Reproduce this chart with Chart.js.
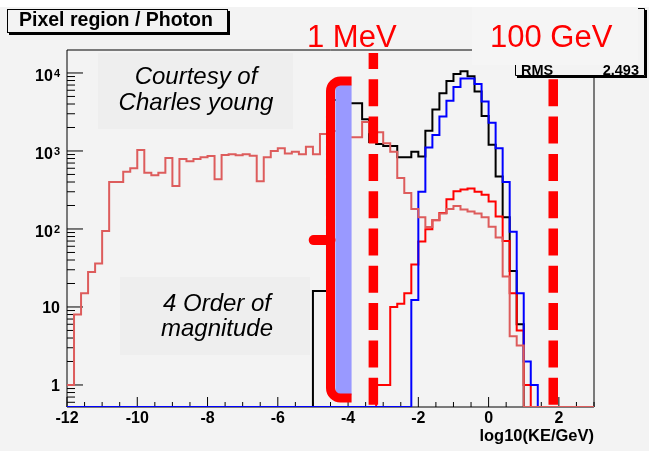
<!DOCTYPE html>
<html><head><meta charset="utf-8">
<script src="https://cdn.jsdelivr.net/npm/chart.js@4.4.1/dist/chart.umd.min.js"></script>
<style>html,body{margin:0;padding:0;background:#fff;overflow:hidden}#wrap{width:649px;height:451px;position:relative}</style>
</head><body><div id="wrap"><canvas id="c" width="649" height="451"></canvas></div>
<script>
// histogram binning (log10(KE/GeV)), 75 bins of 0.2 from -12 to 3
const BIN_LO = -12, BIN_W = 0.2;
const X_MIN = -12, X_MAX = 3;
const Y_MIN = 0.522, Y_MAX = 19700;

const salmonCounts = [
  1,8,15,28,36,94,400,400,540,600,
  1030,525,490,525,810,355,790,740,790,830,
  860,435,890,910,880,910,870,410,830,1000,
  1080,930,980,910,1130,910,1650,1700,1800,1700,
  1500,1500,2360,1740,1740,1260,980,450,290,180,
  141,106,130,158,180,197,178,167,158,141,
  107,78,24.5,4.2,3.2,0,0,0,0,0,
  0,0,0,0,0];
const blackCounts = [
  0,0,0,0,0,0,0,0,0,0,
  0,0,0,0,0,0,0,0,0,0,
  0,0,0,0,0,0,0,0,0,0,
  0,0,0,0,0,16,16,3000,4500,4500,
  4100,4100,2560,1300,1230,1160,1160,830,830,980,
  850,1820,3400,5500,7900,9700,10500,9100,5770,2800,
  1200,470,141,29,6,0,0,0,0,0,
  0,0,0,0,0];
const redCounts = [
  0,0,0,0,0,0,0,0,0,0,
  0,0,0,0,0,0,0,0,0,0,
  0,0,0,0,0,0,0,0,0,0,
  0,0,0,0,0,0,0,0,0,0,
  0,0,0,0,1,1,10,11,15,35,
  69,99,129,160,240,305,320,330,300,275,
  225,145,70,15,5,1,0,0,0,0,
  0,0,0,0,0];
const blueCounts = [
  0,0,0,0,0,0,0,0,0,0,
  0,0,0,0,0,0,0,0,0,0,
  0,0,0,0,0,0,0,0,0,0,
  0,0,0,0,0,0,0,0,0,0,
  0,0,0,0,0,0,0,0,0,12.3,
  300,1110,1600,2760,4400,6600,8500,8500,7200,4300,
  2300,1080,400,92,15,2,1,0,0,0,
  0,0,0,0,0];

const xTickValues = [-12,-10,-8,-6,-4,-2,0,2];
const xTickLabels = ['-12','-10','-8','-6','-4','-2','0','2'];
const yTickValues = [1,10,100,1000,10000];
const yTickBase = ['1','10','10','10','10'];
const yTickExp = ['','','2','3','4'];

// annotations (data units)
const markerLineX = [-3.28, 1.84];           // "1 MeV", "100 GeV"
const bandX = [-4.36, -3.9], bandY = [0.74, 7000];
const braceX = -4.5, braceArmX = -3.9, braceNubX = -5.12;
const braceTop = 7900, braceBottom = 0.68, braceMid = 72;

const FONT = '"Liberation Sans", Arial, Helvetica, sans-serif';

function hist(vals){
  const pts = vals.map((v,k)=>({x: BIN_LO + k*BIN_W, y: v > 0 ? v : Y_MIN}));
  pts.push({x: BIN_LO + vals.length*BIN_W, y: Y_MIN});
  return pts;
}
function ds(vals, color){
  return {data: hist(vals), borderColor: color, borderWidth: 2, stepped: 'before',
          pointRadius: 0, fill: false, tension: 0};
}

const deco = {
  id: 'deco',
  beforeDraw(chart){
    const c = chart.ctx;
    c.save();
    c.fillStyle = '#fff'; c.fillRect(0,0,chart.width,chart.height);
    c.fillStyle = 'rgb(243,243,243)'; c.fillRect(0,7,chart.width,chart.height-7);
    c.restore();
  },
  beforeDatasetsDraw(chart){
    const c = chart.ctx, xs = chart.scales.x, ys = chart.scales.y;
    const L = xs.left, R = xs.right, T = ys.top, B = ys.bottom;
    c.save();
    // text boxes
    c.fillStyle = 'rgb(238,238,238)';
    c.fillRect(98,53,195,76);
    c.fillRect(120,277,190,78);
    c.fillStyle = '#000';
    c.font = 'italic 24px ' + FONT;
    c.textAlign = 'center';
    c.fillText('Courtesy of', 196, 84);
    c.fillText('Charles young', 196, 110);
    c.fillText('4 Order of', 217, 311);
    c.fillText('magnitude', 217, 336);
    // frame
    c.strokeStyle = '#000'; c.lineWidth = 1;
    c.beginPath();
    c.moveTo(L, T); c.lineTo(R, T); c.lineTo(R, B); c.lineTo(L, B); c.closePath();
    c.stroke();
    // y ticks
    c.beginPath();
    for (let d = -1; d <= 4; d++){
      for (let m = 1; m <= 9; m++){
        const v = m*Math.pow(10,d);
        if (v < Y_MIN || v > Y_MAX) continue;
        const py = ys.getPixelForValue(v);
        const len = m === 1 ? 16 : 8;
        c.moveTo(L, py); c.lineTo(L+len, py);
      }
    }
    // x ticks
    for (let v = X_MIN; v <= X_MAX + 1e-9; v += 0.5){
      const px = xs.getPixelForValue(v);
      const len = (Math.abs(v % 2) < 1e-9) ? 10 : 5;
      c.moveTo(px, B); c.lineTo(px, B-len);
    }
    c.stroke();
    // y labels
    c.fillStyle = '#000';
    c.textAlign = 'left';
    const rightEdge = 60;
    yTickValues.forEach((v,i)=>{
      const py = ys.getPixelForValue(v);
      if (yTickExp[i]){
        c.font = 'bold 11px ' + FONT;
        const we = c.measureText(yTickExp[i]).width;
        c.fillText(yTickExp[i], rightEdge - we, py + 4.5);
        c.font = 'bold 16px ' + FONT;
        const wb = c.measureText(yTickBase[i]).width;
        c.fillText(yTickBase[i], rightEdge - we - 1 - wb, py + 8);
      } else {
        c.font = 'bold 16px ' + FONT;
        const wb = c.measureText(yTickBase[i]).width;
        c.fillText(yTickBase[i], rightEdge - wb, py + 6);
      }
    });
    // x title
    c.font = 'bold 16.5px ' + FONT;
    c.textAlign = 'right';
    c.fillText('log10(KE/GeV)', R, 441);
    // title box
    c.fillStyle = '#000'; c.fillRect(9,11,221,24);
    c.fillStyle = 'rgb(243,243,243)'; c.fillRect(7,9,221,24);
    c.strokeStyle = '#000'; c.lineWidth = 1; c.strokeRect(7.5,9.5,220,23);
    c.fillStyle = '#000'; c.textAlign = 'left';
    c.font = 'bold 19.5px ' + FONT;
    c.fillText('Pixel region / Photon', 19, 26);
    c.restore();
  },
  afterDatasetsDraw(chart){
    const c = chart.ctx, xs = chart.scales.x, ys = chart.scales.y;
    const B = ys.bottom;
    c.save();
    // lavender band
    const bx0 = xs.getPixelForValue(bandX[0]), bx1 = xs.getPixelForValue(bandX[1]);
    const by0 = ys.getPixelForValue(bandY[1]), by1 = ys.getPixelForValue(bandY[0]);
    c.fillStyle = 'rgb(153,153,255)';
    c.fillRect(bx0, by0, bx1-bx0, by1-by0);
    // red brace
    const px = xs.getPixelForValue(braceX), pa = xs.getPixelForValue(braceArmX), pn = xs.getPixelForValue(braceNubX);
    const pt = ys.getPixelForValue(braceTop), pb = ys.getPixelForValue(braceBottom), pm = ys.getPixelForValue(braceMid);
    c.strokeStyle = '#ff0000'; c.lineWidth = 9; c.lineJoin = 'round'; c.lineCap = 'butt';
    c.beginPath();
    c.moveTo(pa, pt);
    c.arcTo(px, pt, px, pt+20, 10);
    c.lineTo(px, pb-10);
    c.arcTo(px, pb, pa, pb, 10);
    c.lineTo(pa, pb);
    c.stroke();
    c.lineCap = 'round'; c.lineWidth = 10;
    c.beginPath(); c.moveTo(px, pm); c.lineTo(pn + 5, pm); c.stroke();
    // dashed marker lines
    c.lineCap = 'butt'; c.lineWidth = 9.5;
    c.setLineDash([27, 10.3]); c.lineDashOffset = 11;
    markerLineX.forEach(v=>{
      const x = xs.getPixelForValue(v);
      c.beginPath(); c.moveTo(x, 53); c.lineTo(x, B); c.stroke();
    });
    c.setLineDash([]);
    // 1 MeV label
    c.fillStyle = '#ff0000';
    c.font = '31px ' + FONT; c.textAlign = 'left';
    c.fillText('1 MeV', 307, 47);
    // stats box
    c.fillStyle = '#000'; c.fillRect(517,10,130,68);
    c.fillStyle = 'rgb(243,243,243)'; c.fillRect(515,8,130,68);
    c.strokeStyle = '#000'; c.lineWidth = 1; c.strokeRect(515.5,8.5,129,67);
    c.fillStyle = '#000'; c.font = 'bold 14.5px ' + FONT;
    c.textAlign = 'left'; c.fillText('RMS', 521, 75);
    c.textAlign = 'right'; c.fillText('2.493', 639, 75);
    // 100 GeV label box
    c.fillStyle = 'rgb(245,245,245)'; c.fillRect(472,7,166,58);
    c.fillStyle = '#ff0000'; c.font = '31px ' + FONT; c.textAlign = 'left';
    c.fillText('100 GeV', 490, 47);
    c.restore();
  }
};

new Chart(document.getElementById('c'), {
  type: 'line',
  data: { datasets: [
    ds(salmonCounts, 'rgb(221,92,92)'),
    ds(blueCounts, '#0000ff'),
    ds(redCounts, '#ff0000'),
    ds(blackCounts, '#000000')
  ]},
  options: {
    responsive: false, animation: false, devicePixelRatio: 1,
    layout: { padding: { left: 0, top: 50, right: 55, bottom: 0 } },
    plugins: { legend: { display: false }, tooltip: { enabled: false } },
    scales: {
      x: {
        type: 'linear', min: X_MIN, max: X_MAX,
        grid: { display: false, drawTicks: false }, border: { display: false },
        afterBuildTicks: s => { s.ticks = xTickValues.map(v => ({ value: v })); },
        ticks: { autoSkip: false, maxRotation: 0, padding: 2, color: '#000',
                 font: { family: FONT, size: 16, weight: 'bold' },
                 callback: (v, i) => xTickLabels[i] },
        afterFit: s => { s.height = 44; }
      },
      y: {
        type: 'logarithmic', min: Y_MIN, max: Y_MAX,
        grid: { display: false, drawTicks: false }, border: { display: false },
        ticks: { display: false },
        afterFit: s => { s.width = 67; }
      }
    }
  },
  plugins: [deco]
});
</script>
</body></html>
